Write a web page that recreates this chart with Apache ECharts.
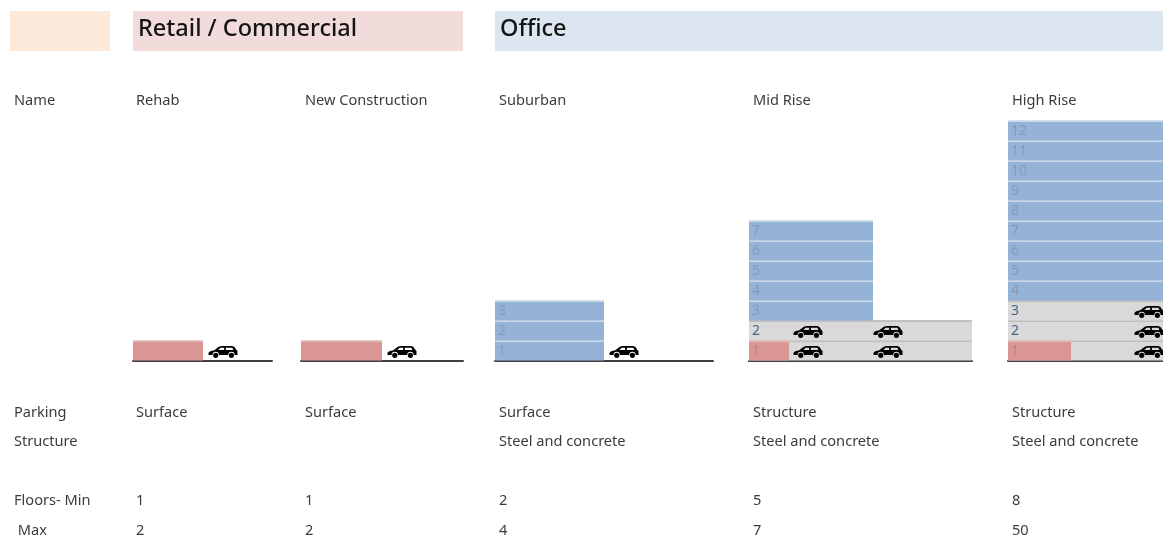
<!DOCTYPE html>
<html><head><meta charset="utf-8">
<style>html,body{margin:0;padding:0;background:#fff;overflow:hidden}#c{width:1163px;height:538px;filter:blur(0.45px)}</style>
<script src="https://cdn.jsdelivr.net/npm/echarts@6/dist/echarts.min.js"></script>
</head><body><div id="c"></div>
<script>
// ---- data ----
const sectorNames = ['', 'Retail / Commercial', 'Office'];
const rowLabels = ['Name', 'Parking', 'Structure', 'Floors- Min', ' Max'];
const categories = ['Rehab', 'New Construction', 'Suburban', 'Mid Rise', 'High Rise'];
const parking = ['Surface', 'Surface', 'Surface', 'Structure', 'Structure'];
const structure = ['', '', 'Steel and concrete', 'Steel and concrete', 'Steel and concrete'];
const floorsMin = ['1', '1', '2', '5', '8'];
const floorsMax = ['2', '2', '4', '7', '50'];
const retailFloors = [1, 1, 0, 1, 1];
const deckFloors = [0, 0, 0, 2, 3];
const officeFirstFloor = [0, 0, 1, 3, 4];
const officeLastFloor = [0, 0, 3, 7, 12];
const retailWidth = [70, 81, 0, 40, 63];
const officeWidth = [0, 0, 109, 124, 155];
const siteWidth = [139, 162, 218, 223, 155];
const carSpots = [[90], [101], [129], [59, 139], [141]];

// ---- layout & style ----
const colLeft = [133, 301, 495, 749, 1008];
const textX = [136, 305, 499, 753, 1012];
const rowLabelX = 14;
const rowY = [101, 413, 442, 501, 531];
const bands = [[10, 100, '#fde9d9'], [133, 330, '#f2dcdb'], [495, 668, '#dce6f1']];
const gridTop = 120.5, floorPx = 20, maxFloor = 12;
const fills = { office: '#95b3d7', deck: '#d9d9d9', retail: '#d99694' };
const seps = { office: '#dbe3ee', deck: '#b4b4b4', retail: '#e2c6c5' };
const inks = { office: '#8b9ab0', deck: '#4a6484', retail: '#bf8786' };
const font = '"Noto Sans", "Open Sans", sans-serif';
const carPath = 'path://M0 31 L0 23 Q3 18 20 15 L34 4 Q39 0 48 0 L82 0 Q91 1 95 12 L100 17 L100 31 L90 31 A11 11 0 0 0 68 31 L36 31 A11 11 0 0 0 14 31 Z' +
  'M42 6 L34 14 L54 14 L54 6 Z M60 6 L60 14 L86 14 L82 6 Z' +
  'M16 32 A9 9 0 1 0 34 32 A9 9 0 1 0 16 32 Z M70 32 A9 9 0 1 0 88 32 A9 9 0 1 0 70 32 Z';

function rowsFor(i) {
  const rows = [];
  const site = siteWidth[i];
  // [xStart, xEnd, floorBottom, kind, label]
  for (let f = 1; f <= deckFloors[i]; f++) rows.push([0, site, f - 1, 'deck', f === 1 && retailFloors[i] ? '' : String(f)]);
  for (let f = 1; f <= retailFloors[i]; f++) rows.push([0, retailWidth[i], f - 1, 'retail', deckFloors[i] ? String(f) : '']);
  if (officeLastFloor[i]) for (let f = officeFirstFloor[i]; f <= officeLastFloor[i]; f++) rows.push([0, officeWidth[i], f - 1, 'office', String(f)]);
  return rows;
}

function renderRow(params, api) {
  const x0 = api.value(0), x1 = api.value(1), f = api.value(2);
  const kind = api.value(3), label = api.value(4);
  const tl = api.coord([x0, f + 1]), br = api.coord([x1, f]);
  const w = br[0] - tl[0], h = br[1] - tl[1];
  const children = [
    { type: 'rect', shape: { x: tl[0], y: tl[1], width: w, height: h }, style: { fill: fills[kind] } },
    { type: 'line', shape: { x1: tl[0], y1: tl[1] + 0.5, x2: br[0], y2: tl[1] + 0.5 }, style: { stroke: seps[kind], lineWidth: 1.4 } }
  ];
  if (label) children.push({ type: 'text', style: { x: tl[0] + 3, y: tl[1] + h / 2 + 0.5, text: String(label), fill: inks[kind], font: '14px ' + font, textAlign: 'left', textVerticalAlign: 'middle' } });
  return { type: 'group', children };
}

const grid = [], xAxis = [], yAxis = [], series = [];
categories.forEach((name, i) => {
  grid.push({ left: colLeft[i], top: gridTop, width: siteWidth[i], height: floorPx * maxFloor, containLabel: false });
  xAxis.push({ gridIndex: i, type: 'value', min: 0, max: siteWidth[i], axisLine: { show: true, onZero: false, lineStyle: { color: '#404040', width: 2 } }, axisTick: { show: false }, axisLabel: { show: false }, splitLine: { show: false } });
  yAxis.push({ gridIndex: i, type: 'value', min: 0, max: maxFloor, interval: 1, show: false, splitLine: { show: false } });
  series.push({
    type: 'custom', name, xAxisIndex: i, yAxisIndex: i, coordinateSystem: 'cartesian2d',
    clip: false, silent: true, renderItem: renderRow,
    encode: { x: [0, 1], y: 2 }, data: rowsFor(i)
  });
  const cars = [];
  for (let lvl = 0; lvl < Math.max(1, deckFloors[i]); lvl++) carSpots[i].forEach(x => cars.push([x, lvl + 0.43]));
  series.push({
    type: 'scatter', xAxisIndex: i, yAxisIndex: i, silent: true, clip: false, z: 5,
    symbol: carPath, symbolSize: [29, 12], itemStyle: { color: '#000', opacity: 1 }, data: cars
  });
});

const graphic = [];
bands.forEach((b, i) => {
  graphic.push({ type: 'rect', silent: true, shape: { x: b[0], y: 11, width: b[1], height: 40 }, style: { fill: b[2] } });
  if (sectorNames[i]) graphic.push({ type: 'text', silent: true, style: { x: b[0] + 5, y: 29, text: sectorNames[i], fill: '#141414', font: '500 23.5px ' + font, textVerticalAlign: 'middle' } });
});
function addText(x, y, text) {
  if (text) graphic.push({ type: 'text', silent: true, style: { x, y, text, fill: '#3c3c3c', font: '14.6px ' + font, textVerticalAlign: 'middle' } });
}
rowLabels.forEach((t, r) => addText(rowLabelX, rowY[r], t));
[categories, parking, structure, floorsMin, floorsMax].forEach((col, r) => col.forEach((t, i) => addText(textX[i], rowY[r], t)));

const chart = echarts.init(document.getElementById('c'));
chart.setOption({ animation: false, backgroundColor: '#fff', grid, xAxis, yAxis, series, graphic });
</script></body></html>
